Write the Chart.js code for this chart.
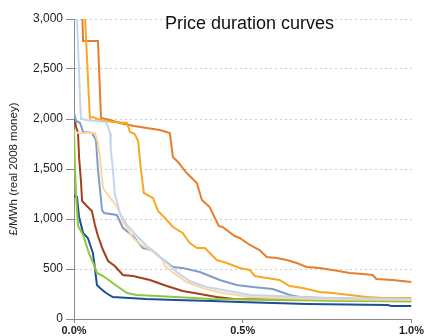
<!DOCTYPE html>
<html>
<head>
<meta charset="utf-8">
<script src="https://cdn.jsdelivr.net/npm/chart.js@4/dist/chart.umd.min.js"></script>
<style>
  html, body { margin: 0; padding: 0; background: #fff; }
  #wrap { width: 425px; height: 336px; }
</style>
</head>
<body>
<div id="wrap"><canvas id="chart" width="425" height="336"></canvas></div>
<script>
// Price duration curves: [share of time (%), price (£/MWh)]
const darkOrange = [[0.022,3300],[0.027,2780],[0.071,2780],[0.080,2010],[0.107,1990],[0.136,1960],[0.178,1930],[0.254,1890],[0.284,1860],[0.293,1620],[0.308,1570],[0.334,1460],[0.364,1360],[0.379,1190],[0.402,1120],[0.429,930],[0.44,920],[0.476,830],[0.491,810],[0.521,740],[0.550,690],[0.571,620],[0.601,610],[0.630,590],[0.660,560],[0.689,520],[0.728,510],[0.766,490],[0.817,460],[0.855,450],[0.885,440],[0.896,400],[0.944,390],[1.0,370]];
const orange = [[0.028,3300],[0.033,3000],[0.047,2010],[0.056,2020],[0.077,1990],[0.115,1970],[0.157,1960],[0.166,1870],[0.180,1850],[0.190,1780],[0.198,1500],[0.207,1260],[0.234,1210],[0.249,1080],[0.275,990],[0.293,920],[0.322,860],[0.343,760],[0.364,710],[0.388,710],[0.423,590],[0.453,560],[0.491,510],[0.521,490],[0.536,430],[0.571,410],[0.609,390],[0.639,330],[0.678,310],[0.728,270],[0.766,260],[0.817,240],[0.867,220],[0.914,210],[1.0,210]];
const lightBlue = [[0.006,3300],[0.009,3000],[0.018,2190],[0.021,2010],[0.033,1990],[0.095,1970],[0.107,1860],[0.109,1690],[0.115,1510],[0.121,1240],[0.127,1180],[0.136,1060],[0.157,940],[0.186,830],[0.216,730],[0.246,650],[0.275,560],[0.305,470],[0.343,380],[0.393,320],[0.441,290],[0.491,260],[0.521,240],[0.6,230],[0.7,215],[0.85,205],[1.0,200]];
const tan = [[0.0,1880],[0.012,1860],[0.062,1860],[0.071,1760],[0.077,1620],[0.083,1400],[0.086,1310],[0.107,1210],[0.127,1130],[0.145,980],[0.175,810],[0.204,730],[0.234,680],[0.263,590],[0.269,530],[0.3,450],[0.334,370],[0.373,320],[0.402,290],[0.441,260],[0.521,220],[0.65,205],[0.8,195],[1.0,190]];
const steelBlue = [[0.0,2060],[0.006,1980],[0.018,1960],[0.027,1870],[0.053,1860],[0.065,1790],[0.071,1500],[0.083,1090],[0.089,1060],[0.127,1040],[0.145,910],[0.175,830],[0.204,710],[0.23,690],[0.254,620],[0.293,520],[0.322,510],[0.373,470],[0.432,390],[0.482,340],[0.530,320],[0.589,300],[0.639,240],[0.669,220],[0.737,210],[0.85,200],[1.0,190]];
const brown = [[0.0,2000],[0.003,1980],[0.006,1920],[0.012,1860],[0.015,1620],[0.021,1360],[0.024,1180],[0.038,1130],[0.053,1080],[0.062,940],[0.071,830],[0.086,690],[0.101,580],[0.121,530],[0.145,440],[0.175,430],[0.225,390],[0.275,330],[0.322,280],[0.373,250],[0.423,220],[0.473,200],[0.6,195],[0.8,185],[1.0,180]];
const green = [[0.0,1880],[0.003,1500],[0.006,1250],[0.012,930],[0.027,840],[0.044,660],[0.062,520],[0.068,460],[0.086,430],[0.107,380],[0.127,330],[0.157,260],[0.186,240],[0.275,225],[0.408,200],[0.6,190],[1.0,175]];
const darkBlue = [[0.0,1230],[0.009,1220],[0.015,1020],[0.027,860],[0.041,810],[0.056,660],[0.062,510],[0.068,340],[0.077,310],[0.095,260],[0.115,220],[0.213,200],[0.3,190],[0.41,180],[0.49,170],[0.69,150],[0.93,140],[0.94,130],[1.0,130]];

const xTicks = [0, 0.5, 1.0];
const yTicks = [0, 500, 1000, 1500, 2000, 2500, 3000];
const chartTitle = 'Price duration curves';
const yTitle = '£/MWh (real 2008 money)';

const FONT = '"Liberation Sans", Arial, sans-serif';

function series(points, color) {
    return {
        data: points.map(p => ({ x: p[0], y: p[1] })),
        borderColor: color,
        borderWidth: 2,
        pointRadius: 0,
        tension: 0,
        fill: false
    };
}

// Title sits inside the plot area, near the top
const innerTitle = {
    id: 'innerTitle',
    afterDraw(chart) {
        const { ctx, chartArea } = chart;
        ctx.save();
        ctx.font = '18px ' + FONT;
        ctx.fillStyle = '#111';
        ctx.textAlign = 'center';
        ctx.textBaseline = 'alphabetic';
        ctx.fillText(chartTitle, chartArea.left + (chartArea.right - chartArea.left) * 0.52, chartArea.top + 10);
        ctx.restore();
    }
};

new Chart(document.getElementById('chart'), {
    type: 'line',
    data: {
        datasets: [
            series(lightBlue, '#C5D5EB'),
            series(tan, '#F8D7A0'),
            series(steelBlue, '#7F9DCB'),
            series(green, '#8DC63F'),
            series(darkBlue, '#1F4E99'),
            series(brown, '#A3401B'),
            series(orange, '#F8A823'),
            series(darkOrange, '#E57E2E')
        ]
    },
    options: {
        responsive: false,
        animation: false,
        layout: { padding: { left: 0, right: 13, top: 19, bottom: 0 } },
        plugins: {
            legend: { display: false },
            tooltip: { enabled: false }
        },
        scales: {
            x: {
                type: 'linear',
                min: 0,
                max: 1,
                afterBuildTicks: scale => { scale.ticks = xTicks.map(v => ({ value: v })); },
                afterFit: scale => { scale.height = 17; },
                ticks: {
                    callback: v => v.toFixed(1) + '%',
                    font: { family: FONT, size: 11, weight: 'bold' },
                    color: '#222',
                    padding: 1,
                    maxRotation: 0
                },
                grid: { drawOnChartArea: false, drawTicks: true, tickLength: 4, tickColor: '#888' },
                border: { color: '#888', width: 1 }
            },
            y: {
                min: 0,
                max: 3000,
                afterBuildTicks: scale => { scale.ticks = yTicks.map(v => ({ value: v })); },
                afterFit: scale => { scale.width = 74; },
                ticks: {
                    callback: v => v.toLocaleString('en-US'),
                    font: { family: FONT, size: 12 },
                    color: '#222',
                    padding: 3
                },
                grid: {
                    color: ctx => ctx.tick && ctx.tick.value === 0 ? 'rgba(0,0,0,0)' : '#cccccc',
                    tickLength: 8,
                    tickColor: '#888',
                    tickBorderDash: []
                },
                border: { color: '#888', width: 1, dash: [2, 3] },
                title: {
                    display: true,
                    text: yTitle,
                    font: { family: FONT, size: 11.5 },
                    color: '#222',
                    padding: { top: 7, bottom: 0 }
                }
            }
        }
    },
    plugins: [innerTitle]
});
</script>
</body>
</html>
